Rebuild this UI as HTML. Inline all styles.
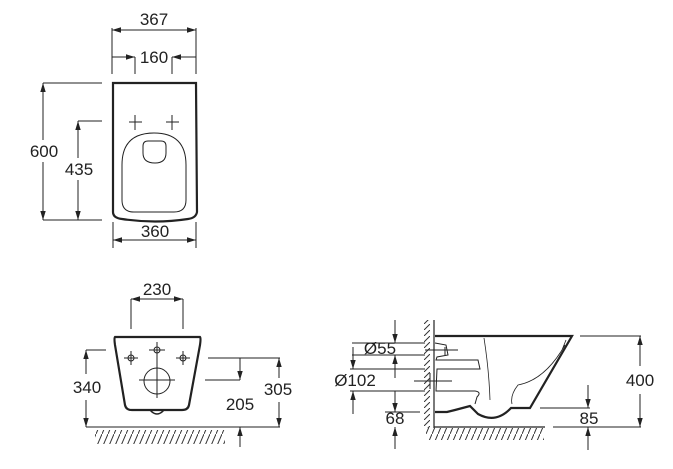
<!DOCTYPE html>
<html><head><style>
html,body{margin:0;padding:0;background:#fff;}
svg{display:block;}
text{font-family:"Liberation Sans",Arial,sans-serif;font-size:17px;fill:#222;}
</style></head><body>
<svg width="673" height="469" viewBox="0 0 673 469" xmlns="http://www.w3.org/2000/svg">
<defs>
<marker id="a" viewBox="0 0 10 10" refX="10" refY="5" markerWidth="9" markerHeight="9" orient="auto-start-reverse" markerUnits="userSpaceOnUse"><path d="M0,2 L10,5 L0,8 z" fill="#222"/></marker>
<pattern id="h" width="6" height="14" patternUnits="userSpaceOnUse"><path d="M6,0 L0,14" stroke="#333" stroke-width="1"/></pattern>
<pattern id="hv" width="10" height="6" patternUnits="userSpaceOnUse"><path d="M10,0 L0,10" stroke="#333" stroke-width="1"/></pattern>
</defs>
<g stroke="#222" stroke-width="1" fill="none">
<!-- TOP VIEW -->
<line x1="112" y1="28" x2="112" y2="74"/><line x1="196" y1="28" x2="196" y2="74"/>
<line x1="112" y1="30" x2="196" y2="30" marker-start="url(#a)" marker-end="url(#a)"/>
<line x1="135" y1="57" x2="135" y2="74"/><line x1="172" y1="57" x2="172" y2="74"/>
<line x1="112" y1="57" x2="135" y2="57" marker-end="url(#a)"/>
<line x1="196" y1="57" x2="172" y2="57" marker-end="url(#a)"/>
<path d="M113,83 L196,83 L197,212 Q196,218 188,219 Q155,224 122,219 Q113,218 113,212 Z" stroke-width="2.2"/>
<path d="M122,165 Q122,133 154,133 Q186,133 186,165 L186,200 Q186,212 174,212 L134,212 Q122,212 122,200 Z"/>
<path d="M143,146 Q143,141 148,141 L161,141 Q166,141 166,146 L166,153 Q166,163 155,163 Q143,163 143,153 Z"/>
<line x1="129" y1="122" x2="142" y2="122"/><line x1="135" y1="115" x2="135" y2="130"/>
<line x1="166" y1="122" x2="179" y2="122"/><line x1="172" y1="115" x2="172" y2="130"/>
<line x1="43" y1="83" x2="102" y2="83"/><line x1="43" y1="220" x2="102" y2="220"/>
<line x1="43" y1="83" x2="43" y2="140" marker-start="url(#a)"/>
<line x1="43" y1="162" x2="43" y2="220" marker-end="url(#a)"/>
<line x1="78" y1="121" x2="102" y2="121"/>
<line x1="78" y1="121" x2="78" y2="158" marker-start="url(#a)"/>
<line x1="78" y1="180" x2="78" y2="220" marker-end="url(#a)"/>
<line x1="113" y1="222" x2="113" y2="248"/><line x1="196" y1="222" x2="196" y2="248"/>
<line x1="113" y1="240" x2="196" y2="240" marker-start="url(#a)" marker-end="url(#a)"/>

<!-- FRONT VIEW -->
<line x1="131" y1="299" x2="131" y2="329"/><line x1="183" y1="299" x2="183" y2="329"/>
<line x1="131" y1="299" x2="183" y2="299" marker-start="url(#a)" marker-end="url(#a)"/>
<path d="M115,337 L200,337 Q201,338 200,345 L189,405 Q188,410 182,410 L132,410 Q126,410 125,405 L115,345 Q114,338 115,337 Z" stroke-width="2.2"/>
<path d="M150,410 Q157,418 164,410" stroke-width="1.5"/>
<line x1="157" y1="342" x2="157" y2="398"/><line x1="139" y1="380" x2="175" y2="380"/>
<circle cx="157" cy="381" r="13"/>
<circle cx="157" cy="350" r="3"/><line x1="149" y1="350" x2="165" y2="350"/>
<circle cx="131" cy="358" r="3"/><line x1="124" y1="358" x2="138" y2="358"/><line x1="131" y1="351" x2="131" y2="365"/>
<circle cx="183" cy="358" r="3"/><line x1="176" y1="358" x2="190" y2="358"/><line x1="183" y1="351" x2="183" y2="365"/>
<line x1="86" y1="350" x2="106" y2="350"/>
<line x1="86" y1="350" x2="86" y2="374" marker-start="url(#a)"/>
<line x1="86" y1="400" x2="86" y2="427" marker-end="url(#a)"/>
<line x1="86" y1="427" x2="280" y2="427"/>
<line x1="208" y1="358" x2="280" y2="358"/>
<line x1="279" y1="358" x2="279" y2="378" marker-start="url(#a)"/>
<line x1="279" y1="402" x2="279" y2="427" marker-end="url(#a)"/>
<line x1="205" y1="380" x2="240" y2="380"/>
<line x1="240" y1="358" x2="240" y2="380" marker-end="url(#a)"/>
<line x1="240" y1="447" x2="240" y2="427" marker-end="url(#a)"/>
<rect x="95" y="430" width="130" height="14" fill="url(#h)" stroke="none"/>

<!-- SIDE VIEW -->
<line x1="434" y1="320" x2="434" y2="428" stroke-width="1.2"/>
<rect x="424" y="320" width="10" height="108" fill="url(#hv)" stroke="none"/>
<line x1="434" y1="427" x2="545" y2="427" stroke-width="1.2"/>
<rect x="426" y="428" width="118" height="12" fill="url(#h)" stroke="none"/>
<path d="M435,336 L572,336 L530,408 L511,408 Q496,424 478,414 L470,406 L455,410 L447,412 L435,412" stroke-width="2.2"/>
<path d="M435,343 L446,345 L448,355 L437,357 L436,360 L478,360 L480,369 L437,369 L436,391 L475,391 Q482,392 477,397 L475,404"/>
<path d="M484,338 Q489,370 490,400" stroke-width="0.8"/>
<path d="M566,340 L562,350 M565,345 Q545,380 518,385 Q510,395 512,404" stroke-width="0.8"/>
<line x1="425" y1="350" x2="458" y2="350"/><line x1="445" y1="347" x2="445" y2="355"/>
<line x1="414" y1="381" x2="452" y2="381"/><line x1="430" y1="373" x2="430" y2="389"/>
<line x1="352" y1="343" x2="425" y2="343"/><line x1="352" y1="355" x2="425" y2="355"/>
<line x1="395" y1="320" x2="395" y2="343" marker-end="url(#a)"/>
<line x1="395" y1="378" x2="395" y2="355" marker-end="url(#a)"/>
<line x1="350" y1="369" x2="425" y2="369"/><line x1="350" y1="391" x2="425" y2="391"/>
<line x1="353" y1="347" x2="353" y2="369" marker-end="url(#a)"/>
<line x1="353" y1="414" x2="353" y2="391" marker-end="url(#a)"/>
<line x1="395" y1="391" x2="395" y2="412" marker-end="url(#a)"/>
<line x1="385" y1="412" x2="420" y2="412"/>
<line x1="395" y1="449" x2="395" y2="427" marker-end="url(#a)"/>
<line x1="580" y1="336" x2="641" y2="336"/>
<line x1="553" y1="427" x2="641" y2="427"/>
<line x1="640" y1="336" x2="640" y2="366" marker-start="url(#a)"/>
<line x1="640" y1="394" x2="640" y2="427" marker-end="url(#a)"/>
<line x1="540" y1="408" x2="590" y2="408"/>
<line x1="588" y1="385" x2="588" y2="408" marker-end="url(#a)"/>
<line x1="588" y1="450" x2="588" y2="427" marker-end="url(#a)"/>
</g>
<g text-anchor="middle">
<text x="154" y="25">367</text>
<text x="154" y="63">160</text>
<text x="44" y="157">600</text>
<text x="79" y="175">435</text>
<text x="155" y="237">360</text>
<text x="157" y="295">230</text>
<text x="87" y="393">340</text>
<text x="278" y="395">305</text>
<text x="240" y="410">205</text>
<text x="380" y="354">Ø55</text>
<text x="355" y="386">Ø102</text>
<text x="395" y="424">68</text>
<text x="640" y="386">400</text>
<text x="589" y="424">85</text>
</g>
</svg>
</body></html>
